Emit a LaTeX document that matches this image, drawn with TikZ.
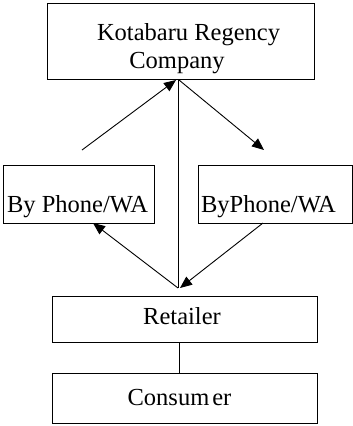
\documentclass[tikz,border=0pt]{standalone}
\usepackage{fontspec}
\setmainfont{Liberation Serif}
\usetikzlibrary{arrows.meta}
\begin{document}
\begin{tikzpicture}[x=1pt,y=-1pt,
  box/.style={draw,line width=0.9pt,rectangle,inner sep=0pt},
  lbl/.style={anchor=base,inner sep=0pt,font=\fontsize{24.5}{28}\selectfont},
  link/.style={line width=0.9pt},
  arr/.style={line width=0.9pt,-{Triangle[length=12pt,width=10pt]}}]
\useasboundingbox (0,0) rectangle (353,426);
% boxes
\node[box,minimum width=267pt,minimum height=76pt] (co) at (180.5,41) {};
\node[box,minimum width=151pt,minimum height=58pt] (lb) at (78.5,194) {};
\node[box,minimum width=154pt,minimum height=58pt] (rb) at (275,194) {};
\node[box,minimum width=265pt,minimum height=46pt] (ret) at (184.5,319) {};
\node[box,minimum width=265pt,minimum height=50pt] (con) at (184.5,398) {};
% labels
\node[lbl] (co1) at (188.5,40) {Kotabaru Regency};
\node[lbl] (co2) at (177,68) {Company};
\node[lbl] (lbt) at (77.5,212) {By Phone/WA};
\node[lbl] (rbt) at (268.5,212) {ByPhone/WA};
\node[lbl] (rett) at (182,324) {Retailer};
\node[lbl] (cont) at (179.5,405) {Consum\kern3pt er};
% connector end points
\coordinate (j) at (178,288);
\coordinate (upfrom) at (82,150);
\coordinate (uptip) at (176,80);
\coordinate (dnfrom) at (179,80);
\coordinate (dntip) at (264,150);
\coordinate (lbtip) at (93,223);
\coordinate (rbfrom) at (263,223);
\coordinate (rtip) at (180,288);
% connectors
\draw[link] (co.south -| j) -- (j);
\draw[link] (ret.south -| 179.5,0) -- (con.north -| 179.5,0);
\draw[arr] (upfrom) -- (uptip);
\draw[arr] (dnfrom) -- (dntip);
\draw[arr] (j) -- (lbtip);
\draw[arr] (rbfrom) -- (rtip);
\end{tikzpicture}
\end{document}
